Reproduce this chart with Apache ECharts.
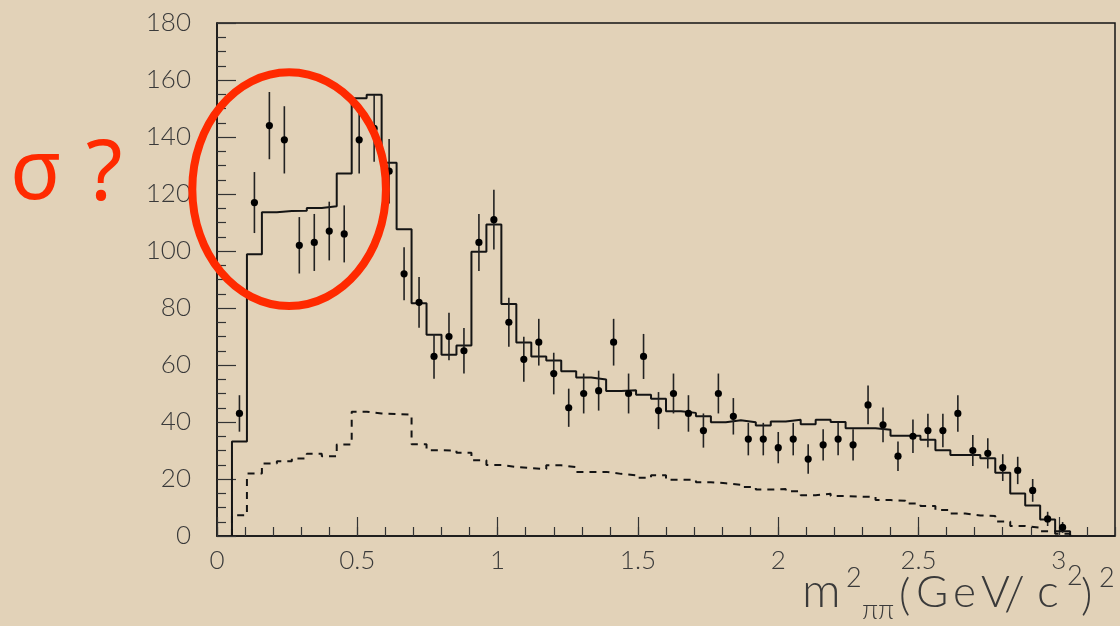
<!DOCTYPE html>
<html>
<head>
<meta charset="utf-8">
<script src="https://cdn.jsdelivr.net/npm/echarts@6/dist/echarts.min.js"></script>
<style>
  html, body { margin: 0; padding: 0; background: #e2d2b8; }
  #chart { width: 1120px; height: 626px; }
</style>
</head>
<body>
<div id="chart"></div>
<script>
// m^2(pi pi) spectrum: 60 bins of equal width between 0 and 3.2 (GeV/c^2)^2
const X_MIN = 0;
const X_MAX = 3.2;
const BIN_COUNT = 60;

// measured events per bin (index = bin number, null = no entry)
const counts = [null, 43, 117, 144, 139, 102, 103, 107, 106, 139,
  143, 128, 92, 82, 63, 70, 65, 103, 111, 75,
  62, 68, 57, 45, 50, 51, 68, 50, 63, 44,
  50, 43, 37, 50, 42, 34, 34, 31, 34, 27,
  32, 34, 32, 46, 39, 28, 35, 37, 37, 43,
  30, 29, 24, 23, 16, 6, 3];

// statistical error of each measured bin
const countErrors = [null, 6.4, 10.7, 11.8, 11.8, 9.9, 10, 10.3, 10, 11.8,
  11.7, 11.3, 9.3, 8.9, 7.8, 8.3, 8, 10, 10.5, 8.6,
  7.9, 8.2, 7.3, 6.7, 7, 7, 8.2, 7, 7.9, 6.5,
  7, 6.4, 6, 7, 6.4, 5.7, 5.7, 5.5, 5.7, 5.2,
  5.5, 5.7, 5.5, 6.8, 6.1, 5.2, 5.9, 5.9, 5.9, 6.4,
  5.4, 5.3, 4.7, 4.8, 4, 2.5, 1.9];

// fitted total (solid histogram)
const fitTotal = [0, 33.2, 98.9, 113.6, 114.0, 114.1, 115.1, 115.7, 127.2, 153.6,
  154.8, 131.0, 107.6, 81.7, 70.6, 63.6, 66.8, 99.7, 109.3, 81.4,
  67.9, 63.0, 61.6, 57.8, 55.6, 54.9, 50.9, 51.1, 49.6, 48.2,
  43.8, 43.2, 42.0, 39.9, 40.6, 39.9, 38.8, 40.2, 40.8, 39.2,
  40.8, 40.0, 37.8, 37.8, 37.3, 35.2, 35.2, 33.8, 30.1, 28.4,
  28.4, 27.3, 22.2, 14.9, 10.7, 5.8, 1.7, 0, 0, 0];

// background component (dashed histogram)
const background = [0, 7.3, 21.9, 25.4, 26.2, 27.2, 28.9, 28.0, 32.1, 43.6,
  43.0, 42.8, 42.6, 32.2, 30.1, 30.0, 29.2, 26.6, 24.9, 24.2,
  23.8, 23.5, 24.8, 24.2, 22.5, 22.5, 21.8, 21.3, 20.4, 21.3,
  19.7, 19.7, 18.9, 18.5, 18.0, 17.2, 16.3, 16.5, 15.7, 14.3,
  14.8, 14.0, 13.8, 13.7, 12.6, 12.4, 11.4, 10.5, 9.1, 7.9,
  7.2, 7.0, 5.1, 3.5, 2.9, 1.7, 0.8, 0, 0, 0];

// axis ticks
const yTicks = { min: 0, max: 180, major: 20, minorSplit: 4 };
const xTicks = { major: 0.5, minor: 0.1 };

// the low-mass region singled out by the annotation (data coordinates)
const sigmaRegion = { x: 0.257, y: 121.7, rx: 0.345, ry: 41 };

const binWidth = (X_MAX - X_MIN) / BIN_COUNT;
const edge = i => X_MIN + i * binWidth;

// outline of a histogram as step points (left edges, step at bin end)
function histogramOutline(values) {
  let first = values.findIndex(v => v > 0);
  let last = values.length - 1;
  while (last > first && !(values[last] > 0)) last--;
  const pts = [[edge(first), 0]];
  for (let i = first; i <= last; i++) pts.push([edge(i), values[i]]);
  pts.push([edge(last + 1), 0]);
  return pts;
}

const points = [];
counts.forEach((c, i) => {
  if (c != null) points.push([edge(i) + binWidth / 2, c, countErrors[i]]);
});

const INK = '#141414';
const TEXT = '#3a3a3a';
const FONT = 'Lato, "Open Sans", sans-serif';
const RED = '#ff2a00';

const chart = echarts.init(document.getElementById('chart'), null, { renderer: 'canvas' });

chart.setOption({
  animation: false,
  backgroundColor: '#e2d2b8',
  grid: { left: 217, right: 5, top: 23, bottom: 90, show: true,
          borderColor: INK, borderWidth: 1.5, backgroundColor: 'transparent' },
  xAxis: [
    {
      type: 'value', min: X_MIN, max: X_MAX, interval: xTicks.major,
      axisLine: { show: true, lineStyle: { color: INK, width: 1.5 } },
      axisTick: { show: true, inside: true, length: 19, lineStyle: { color: '#333', width: 1.2 } },
      axisLabel: { margin: 12, fontSize: 26, color: TEXT, fontFamily: FONT, fontWeight: 300,
                   showMaxLabel: false,
                   formatter: v => String(Math.round(v * 10) / 10) },
      splitLine: { show: false }
    },
    {
      type: 'value', min: X_MIN, max: X_MAX, interval: xTicks.minor, position: 'bottom',
      axisLine: { show: false },
      axisTick: { show: true, inside: true, length: 9, lineStyle: { color: '#333', width: 1.2 } },
      axisLabel: { show: false },
      splitLine: { show: false }
    }
  ],
  yAxis: {
    type: 'value', min: yTicks.min, max: yTicks.max, interval: yTicks.major,
    axisLine: { show: true, lineStyle: { color: INK, width: 1.5 } },
    axisTick: { show: true, inside: true, length: 19, lineStyle: { color: '#333', width: 1.2 } },
    minorTick: { show: true, splitNumber: yTicks.minorSplit, length: 9, lineStyle: { color: '#333', width: 1.2 } },
    axisLabel: { margin: 26, fontSize: 26, color: TEXT, fontFamily: FONT, fontWeight: 300 },
    splitLine: { show: false }
  },
  series: [
    {
      name: 'background', type: 'line', step: 'end', xAxisIndex: 0,
      data: histogramOutline(background), showSymbol: false, symbol: 'none',
      lineStyle: { color: INK, width: 2, type: [7, 6] }, z: 3
    },
    {
      name: 'fit', type: 'line', step: 'end', xAxisIndex: 0,
      data: histogramOutline(fitTotal), showSymbol: false, symbol: 'none',
      lineStyle: { color: INK, width: 2 }, z: 4
    },
    {
      name: 'data', type: 'custom', xAxisIndex: 0,
      data: points, encode: { x: 0, y: 1 }, z: 5,
      renderItem: (params, api) => {
        const x = api.value(0), y = api.value(1), e = api.value(2);
        const c = api.coord([x, y]);
        const hi = api.coord([x, y + e]);
        const lo = api.coord([x, y - e]);
        return {
          type: 'group',
          children: [
            { type: 'line', shape: { x1: c[0], y1: lo[1], x2: c[0], y2: hi[1] },
              style: { stroke: '#222', lineWidth: 1.6 } },
            { type: 'circle', shape: { cx: c[0], cy: c[1], r: 3.6 },
              style: { fill: '#000' } }
          ]
        };
      }
    }
  ]
});

// axis title m^2_{pi pi} (GeV/c^2)^2, set glyph by glyph
const titleParts = [
  { t: 'm', x: 802, y: 613, s: 48 },
  { t: '2', x: 846, y: 590, s: 27 },
  { t: 'ππ', x: 862, y: 622, s: 27 },
  { t: '(', x: 899, y: 616, s: 44 },
  { t: 'G', x: 916, y: 613, s: 44 },
  { t: 'e', x: 953, y: 613, s: 44 },
  { t: 'V', x: 981, y: 613, s: 44 },
  { t: '/', x: 1004, y: 616, s: 48 },
  { t: 'c', x: 1037, y: 613, s: 46 },
  { t: '2', x: 1067, y: 588, s: 27 },
  { t: ')', x: 1081, y: 616, s: 44 },
  { t: '2', x: 1099, y: 590, s: 27 }
];

const c0 = chart.convertToPixel({ gridIndex: 0 }, [sigmaRegion.x, sigmaRegion.y]);
const c1 = chart.convertToPixel({ gridIndex: 0 }, [sigmaRegion.x + sigmaRegion.rx, sigmaRegion.y + sigmaRegion.ry]);

const graphics = titleParts.map(p => ({
  type: 'text', left: p.x, top: p.y - p.s * 0.95, z: 10,
  style: { text: p.t, fontSize: p.s, fontFamily: FONT, fontWeight: 300, fill: TEXT }
}));

graphics.push({
  type: 'ellipse', z: 20, silent: true,
  shape: { cx: c0[0], cy: c0[1], rx: Math.abs(c1[0] - c0[0]), ry: Math.abs(c1[1] - c0[1]) },
  style: { fill: 'none', stroke: RED, lineWidth: 8 }
});
graphics.push({
  type: 'text', left: 10, top: 133, z: 20,
  style: { text: 'σ', fontSize: 84, fontFamily: '"Noto Sans", sans-serif', fill: RED }
});
graphics.push({
  type: 'text', left: 86, top: 134, z: 20,
  style: { text: '?', fontSize: 84, fontFamily: '"Noto Sans", sans-serif', fill: RED }
});

chart.setOption({ graphic: graphics });
</script>
</body>
</html>
